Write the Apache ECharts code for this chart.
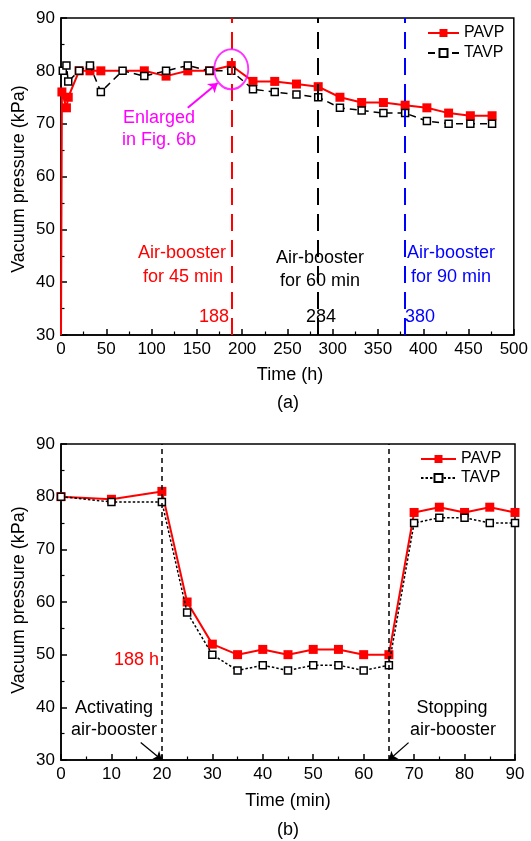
<!DOCTYPE html>
<html>
<head>
<meta charset="utf-8">
<script src="https://cdn.jsdelivr.net/npm/echarts@6/dist/echarts.min.js"></script>
<style>
  html, body { margin: 0; padding: 0; background: #fff; }
  #chart { width: 531px; height: 841px; }
</style>
</head>
<body>
<div id="chart"></div>
<script>
// ---- (a) long-term vacuum record, time in hours ----
const pavpHours = [0, 1, 6, 8, 20, 32, 44, 92, 116, 140, 164, 188, 212, 236, 260, 284, 308, 332, 356, 380, 404, 428, 452, 476];
const pavpKpa   = [30, 76, 73, 75, 80, 80, 80, 80, 79, 80, 80, 81, 78, 78, 77.5, 77, 75, 74, 74, 73.5, 73, 72, 71.5, 71.5];
const tavpHours = [2, 6, 8, 20, 32, 44, 68, 92, 116, 140, 164, 188, 212, 236, 260, 284, 308, 332, 356, 380, 404, 428, 452, 476];
const tavpKpa   = [80, 81, 78, 80, 81, 76, 80, 79, 80, 81, 80, 80, 76.5, 76, 75.5, 75, 73, 72.5, 72, 72, 70.5, 70, 70, 70];
const boosterStartHours = [188, 284, 380];
const boosterColors = ['#ff0000', '#000000', '#0000ff'];
const enlargedPoint = [188, 80.3];
const enlargedArrow = [[140, 73], [173, 77.7]];

// ---- (b) one air-booster cycle at 188 h, time in minutes ----
const cycleMinutes = [0, 10, 20, 25, 30, 35, 40, 45, 50, 55, 60, 65, 70, 75, 80, 85, 90];
const cyclePavp    = [80, 79.5, 81, 60, 52, 50, 51, 50, 51, 51, 50, 50, 77, 78, 77, 78, 77];
const cycleTavp    = [80, 79, 79, 58, 50, 47, 48, 47, 48, 48, 47, 48, 75, 76, 76, 75, 75];
const boosterOnOffMinutes = [20, 65];
const onArrow  = [[15.8, 33.3], [20, 30]];
const offArrow = [[68.9, 33.3], [65, 30]];

const FONT = '"Liberation Sans", Arial, sans-serif';
const zip = (xs, ys) => xs.map((x, i) => [x, ys[i]]);

// the pump starts from zero vacuum: that first reading has no marker
const pavpTopData = zip(pavpHours, pavpKpa).map((p, i) => i === 0 ? { value: p, symbol: 'none' } : p);

function axisCommon(min, max, interval) {
  return {
    type: 'value', min, max, interval,
    axisLine: { show: true, onZero: false, lineStyle: { color: '#000', width: 1.5 } },
    axisTick: { show: true, inside: true, length: 6, lineStyle: { color: '#000', width: 1.5 } },
    minorTick: { show: true, splitNumber: 2, length: 3.5, lineStyle: { color: '#000', width: 1.2 } },
    splitLine: { show: false },
    minorSplitLine: { show: false },
    axisLabel: { color: '#000', fontSize: 17, fontFamily: FONT, margin: 6, showMinLabel: true, showMaxLabel: true }
  };
}

const redLine = {
  type: 'line', symbol: 'rect', symbolSize: 9,
  itemStyle: { color: '#ff0000' },
  lineStyle: { color: '#ff0000', width: 2 },
  z: 3, animation: false
};
function blackHollow(dash) {
  return {
    type: 'line', symbol: 'rect', symbolSize: 7,
    itemStyle: { color: '#ffffff', borderColor: '#000', borderWidth: 1.5 },
    lineStyle: { color: '#000', width: 1.5, type: dash },
    z: 4, animation: false
  };
}

function txt(text, x, y, color, align, extra) {
  return Object.assign({
    type: 'text', x, y, silent: true,
    style: { text, fill: color || '#000', font: '18px ' + FONT, textAlign: align || 'center', textVerticalAlign: 'middle' }
  }, extra || {});
}

const option = {
  backgroundColor: '#fff',
  animation: false,
  grid: [
    { left: 61, right: 16, top: 18, height: 317, show: true, borderColor: '#000', borderWidth: 1.5, backgroundColor: 'transparent' },
    { left: 61, right: 16, top: 444, height: 316, show: true, borderColor: '#000', borderWidth: 1.5, backgroundColor: 'transparent' }
  ],
  xAxis: [
    Object.assign(axisCommon(0, 500, 50), { gridIndex: 0 }),
    Object.assign(axisCommon(0, 90, 10), { gridIndex: 1 })
  ],
  yAxis: [
    Object.assign(axisCommon(30, 90, 10), { gridIndex: 0 }),
    Object.assign(axisCommon(30, 90, 10), { gridIndex: 1 })
  ],
  legend: [
    {
      data: ['PAVP', 'TAVP'], orient: 'vertical', left: 427, top: 25, itemGap: 4, padding: 0,
      itemWidth: 31, itemHeight: 10, textStyle: { fontSize: 16, fontFamily: FONT, color: '#000' },
      selectedMode: false
    },
    {
      data: ['PAVP ', 'TAVP '], orient: 'vertical', left: 420, top: 451, itemGap: 3, padding: 0,
      itemWidth: 35, itemHeight: 10, textStyle: { fontSize: 16, fontFamily: FONT, color: '#000' },
      formatter: n => n.trim(), selectedMode: false
    }
  ],
  series: [
    // booster start markers for (a)
    {
      type: 'line', xAxisIndex: 0, yAxisIndex: 0, data: [], silent: true,
      markLine: {
        symbol: 'none', silent: true, animation: false, label: { show: false },
        lineStyle: { width: 2, type: [17, 9] },
        data: boosterStartHours.map((h, i) => ({ xAxis: h, lineStyle: { color: boosterColors[i], width: 2, type: [17, 9] } }))
      }
    },
    Object.assign({}, redLine, { name: 'PAVP', xAxisIndex: 0, yAxisIndex: 0, data: pavpTopData }),
    Object.assign(blackHollow([7, 5]), { name: 'TAVP', xAxisIndex: 0, yAxisIndex: 0, data: zip(tavpHours, tavpKpa) }),
    // highlighted point circled and pointed to
    {
      type: 'scatter', xAxisIndex: 0, yAxisIndex: 0, data: [enlargedPoint], silent: true,
      symbol: 'circle', symbolSize: [34, 40], z: 6,
      itemStyle: { color: 'rgba(0,0,0,0)', borderColor: '#ff00ff', borderWidth: 2 },
      markLine: {
        silent: true, animation: false, symbol: ['none', 'arrow'], symbolSize: 9,
        label: { show: false },
        lineStyle: { color: '#ff00ff', width: 2, type: 'solid' },
        data: [[{ coord: enlargedArrow[0] }, { coord: enlargedArrow[1] }]]
      }
    },
    // booster on/off markers for (b)
    {
      type: 'line', xAxisIndex: 1, yAxisIndex: 1, data: [], silent: true,
      markLine: {
        symbol: 'none', silent: true, animation: false, label: { show: false },
        lineStyle: { color: '#000', width: 1.5, type: [5, 4] },
        data: boosterOnOffMinutes.map(m => ({ xAxis: m }))
      }
    },
    Object.assign({}, redLine, { name: 'PAVP ', xAxisIndex: 1, yAxisIndex: 1, data: zip(cycleMinutes, cyclePavp) }),
    Object.assign(blackHollow([2.5, 2]), { name: 'TAVP ', xAxisIndex: 1, yAxisIndex: 1, data: zip(cycleMinutes, cycleTavp),
      markLine: {
        silent: true, animation: false, symbol: ['none', 'arrow'], symbolSize: 8,
        label: { show: false },
        lineStyle: { color: '#000', width: 1.3, type: 'solid' },
        data: [
          [{ coord: onArrow[0] }, { coord: onArrow[1] }],
          [{ coord: offArrow[0] }, { coord: offArrow[1] }]
        ]
      }
    })
  ],
  graphic: [
    txt('Vacuum pressure (kPa)', 19, 179, '#000', 'center', { rotation: Math.PI / 2 }),
    txt('Enlarged', 159, 118, '#ff00ff'),
    txt('in Fig. 6b', 159, 140, '#ff00ff'),
    txt('Air-booster', 182, 253, '#ff0000'),
    txt('for 45 min', 183, 277, '#ff0000'),
    txt('188', 229, 317, '#ff0000', 'right'),
    txt('Air-booster', 320, 258, '#000'),
    txt('for 60 min', 320, 281, '#000'),
    txt('284', 321, 317, '#000'),
    txt('Air-booster', 451, 253, '#0000ff'),
    txt('for 90 min', 451, 277, '#0000ff'),
    txt('380', 405, 317, '#0000ff', 'left'),
    txt('Time (h)', 290, 375, '#000'),
    txt('(a)', 288, 403, '#000'),

    txt('Vacuum pressure (kPa)', 19, 600, '#000', 'center', { rotation: Math.PI / 2 }),
    txt('188 h', 159, 660, '#ff0000', 'right'),
    txt('Activating', 114, 708, '#000'),
    txt('air-booster', 114, 730, '#000'),
    txt('Stopping', 452, 708, '#000'),
    txt('air-booster', 453, 730, '#000'),
    txt('Time (min)', 288, 801, '#000'),
    txt('(b)', 288, 830, '#000')
  ]
};

const chart = echarts.init(document.getElementById('chart'), null, { renderer: 'canvas' });
chart.setOption(option);
</script>
</body>
</html>
